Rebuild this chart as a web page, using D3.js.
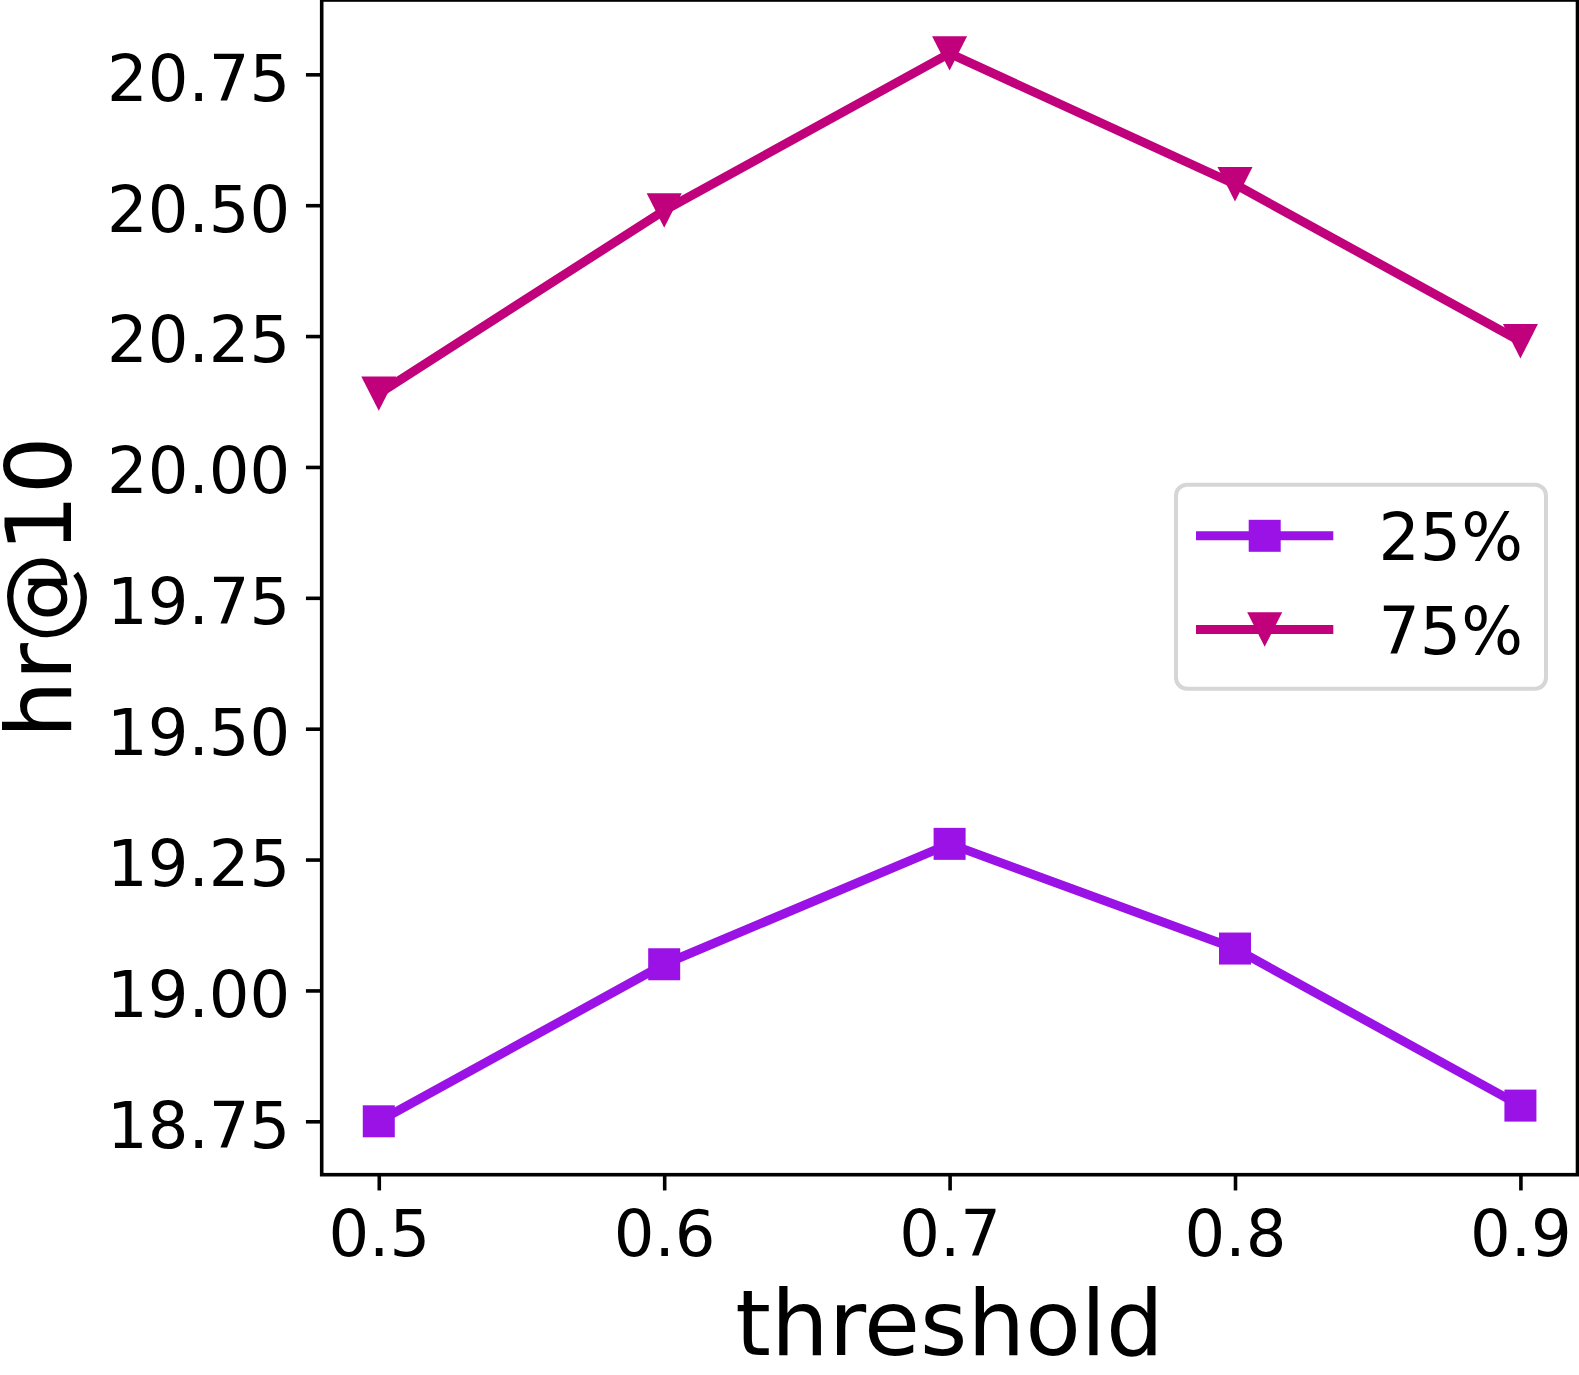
<!DOCTYPE html>
<html>
<head>
<meta charset="utf-8">
<script src="https://cdn.jsdelivr.net/npm/d3@7"></script>
<style>
  html, body { margin: 0; padding: 0; background: #fff; }
  svg { display: block; }
  text { font-family: "DejaVu Sans", sans-serif; fill: #000; }
</style>
</head>
<body>
<svg id="chart" width="1579" height="1375"></svg>
<script>
// ---- data ----
const thresholds = [0.5, 0.6, 0.7, 0.8, 0.9];
const hr25 = [18.75, 19.05, 19.28, 19.08, 18.78];
const hr75 = [20.14, 20.49, 20.79, 20.54, 20.24];
const xTickValues = [0.5, 0.6, 0.7, 0.8, 0.9];
const yTickValues = [18.75, 19.00, 19.25, 19.50, 19.75, 20.00, 20.25, 20.50, 20.75];
const seriesNames = ["25%", "75%"];
const seriesColors = ["#9b12e6", "#c1007b"];
const xLabel = "threshold";
const yLabel = "hr@10";

// ---- layout ----
const plotLeft = 321.7, plotRight = 1577.5, plotTop = 0, plotBottom = 1174.7;
const tickLen = 15.75, tickPad = 15.75, tickW = 3.6;
const tickFont = 64, labelFont = 91, legendFont = 65;
const lineW = 9;

const svg = d3.select("#chart");

// domains with 5% margins (matplotlib-like)
const xMin = d3.min(thresholds), xMax = d3.max(thresholds);
const xm = (xMax - xMin) * 0.05;
const allY = hr25.concat(hr75);
const yMin = d3.min(allY), yMax = d3.max(allY);
const ym = (yMax - yMin) * 0.05;

const x = d3.scaleLinear().domain([xMin - xm, xMax + xm]).range([plotLeft, plotRight]);
const y = d3.scaleLinear().domain([yMin - ym, yMax + ym]).range([plotBottom, plotTop]);

// ---- axes ----
const xAxis = d3.axisBottom(x).tickValues(xTickValues).tickFormat(d3.format(".1f"))
  .tickSize(tickLen).tickPadding(tickPad);
const yAxis = d3.axisLeft(y).tickValues(yTickValues).tickFormat(d3.format(".2f"))
  .tickSize(tickLen).tickPadding(tickPad);

const gx = svg.append("g").attr("transform", `translate(0,${plotBottom})`).call(xAxis);
gx.select(".domain").remove();
gx.selectAll(".tick line").attr("stroke", "#000").attr("stroke-width", tickW);
gx.selectAll(".tick text").attr("font-size", tickFont).attr("fill", "#000")
  .attr("font-family", "DejaVu Sans").attr("y", 81.3).attr("dy", 0);

const gy = svg.append("g").attr("transform", `translate(${plotLeft},0)`).call(yAxis);
gy.select(".domain").remove();
gy.selectAll(".tick line").attr("stroke", "#000").attr("stroke-width", tickW);
gy.selectAll(".tick text").attr("font-size", tickFont).attr("fill", "#000")
  .attr("font-family", "DejaVu Sans").attr("dy", 25.8);

// ---- series ----
const line = d3.line().x(d => x(d[0])).y(d => y(d[1]));
const seriesData = [hr25, hr75];
const sqSize = 32;
const triW = 35, triH = 34.4;

function drawMarker(g, kind, cx, cy, color) {
  if (kind === 0) {
    g.append("rect").attr("x", cx - sqSize / 2).attr("y", cy - sqSize / 2)
      .attr("width", sqSize).attr("height", sqSize).attr("fill", color);
  } else {
    const p = `M${cx - triW / 2},${cy - triH / 2} L${cx + triW / 2},${cy - triH / 2} L${cx},${cy + triH / 2} Z`;
    g.append("path").attr("d", p).attr("fill", color);
  }
}

seriesData.forEach((vals, i) => {
  const pts = thresholds.map((t, j) => [t, vals[j]]);
  const g = svg.append("g");
  g.append("path").attr("d", line(pts)).attr("fill", "none")
    .attr("stroke", seriesColors[i]).attr("stroke-width", lineW)
    .attr("stroke-linejoin", "round").attr("stroke-linecap", "butt");
  pts.forEach(p => drawMarker(g, i, x(p[0]), y(p[1]), seriesColors[i]));
});

// ---- spines ----
svg.append("rect").attr("x", plotLeft).attr("y", plotTop).attr("width", plotRight - plotLeft)
  .attr("height", plotBottom - plotTop).attr("fill", "none").attr("stroke", "#000").attr("stroke-width", 3.6);

// ---- axis labels ----
svg.append("text").attr("x", (plotLeft + plotRight) / 2).attr("y", 1354.5)
  .attr("text-anchor", "middle").attr("font-size", labelFont).text(xLabel);
svg.append("text").attr("transform", `translate(71,${(plotTop + plotBottom) / 2}) rotate(-90)`)
  .attr("text-anchor", "middle").attr("font-size", labelFont).text(yLabel);

// ---- legend ----
const lg = svg.append("g");
lg.append("rect").attr("x", 1176).attr("y", 484.7).attr("width", 370).attr("height", 204)
  .attr("rx", 11).attr("ry", 11).attr("fill", "#fff")
  .attr("stroke", "#d6d6d6").attr("stroke-width", 4);
const legY = [535.8, 629.5];
seriesNames.forEach((name, i) => {
  lg.append("line").attr("x1", 1196).attr("x2", 1333.3).attr("y1", legY[i]).attr("y2", legY[i])
    .attr("stroke", seriesColors[i]).attr("stroke-width", lineW);
  drawMarker(lg, i, 1264.7, legY[i], seriesColors[i]);
  lg.append("text").attr("x", 1378.5).attr("y", legY[i] + 24)
    .attr("font-size", legendFont).text(name);
});
</script>
</body>
</html>
